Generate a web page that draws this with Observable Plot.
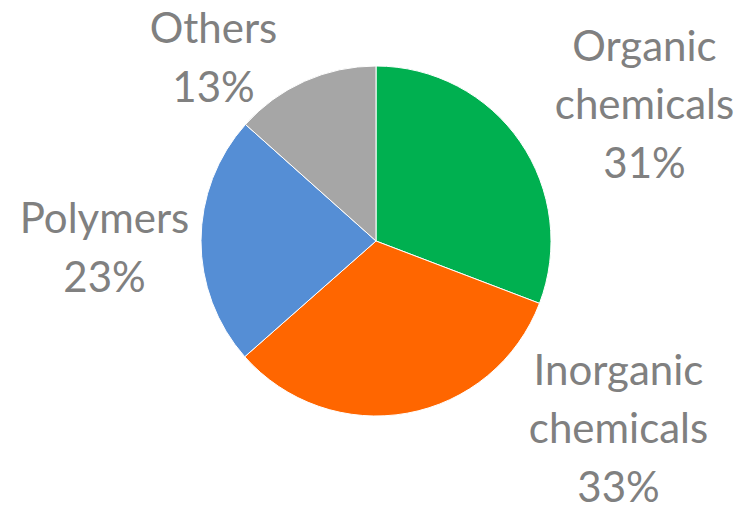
<!DOCTYPE html>
<html>
<head>
<meta charset="utf-8">
<script src="https://cdn.jsdelivr.net/npm/d3@7"></script>
<script src="https://cdn.jsdelivr.net/npm/@observablehq/plot@0.6"></script>
<style>
  html, body { margin: 0; padding: 0; background: #fff; }
</style>
</head>
<body>
<div id="chart"></div>
<script>
// Data
const categories = ["Organic chemicals", "Inorganic chemicals", "Polymers", "Others"];
const shares = [30.8, 32.7, 23.1, 13.4];
const labelNames = ["Organic\nchemicals", "Inorganic\nchemicals", "Polymers", "Others"];

// Styling / layout (not data)
const colors = ["#00B050", "#FF6600", "#558ED5", "#A6A6A6"];
const W = 740, H = 505;
const center = {x: 376, y: 241};
const radius = 175;
const labelAnchors = [
  {x: 644, y: 100},
  {x: 618, y: 424},
  {x: 104, y: 243},
  {x: 213, y: 53}
];

const total = d3.sum(shares);
const rows = categories.map((c, i) => ({
  category: c,
  value: shares[i],
  label: labelNames[i] + "\n" + Math.round(shares[i] / total * 100) + "%",
  color: colors[i],
  lx: labelAnchors[i].x,
  ly: labelAnchors[i].y
}));

const pie = d3.pie().value(d => d.value).sort(null).startAngle(0).endAngle(2 * Math.PI);
const arcs = pie(rows);
const arcGen = d3.arc().innerRadius(0).outerRadius(radius);

function pieMark(index, scales) {
  const g = d3.create("svg:g")
    .attr("transform", `translate(${scales.x(center.x)},${scales.y(center.y)})`);
  g.selectAll("path")
    .data(arcs)
    .join("path")
    .attr("d", arcGen)
    .attr("fill", d => d.data.color)
    .attr("stroke", "#fff")
    .attr("stroke-width", 1);
  return g.node();
}

const chart = Plot.plot({
  width: W,
  height: H,
  margin: 0,
  x: {type: "identity"},
  y: {type: "identity"},
  axis: null,
  style: {background: "#fff"},
  marks: [
    pieMark,
    Plot.text(rows, {
      x: "lx",
      y: "ly",
      text: "label",
      fill: "#808080",
      fontSize: 42,
      lineHeight: 1.4,
      lineAnchor: "middle",
      textAnchor: "middle",
      fontFamily: "Lato, 'Liberation Sans', sans-serif"
    })
  ]
});
document.getElementById("chart").appendChild(chart);
</script>
</body>
</html>
